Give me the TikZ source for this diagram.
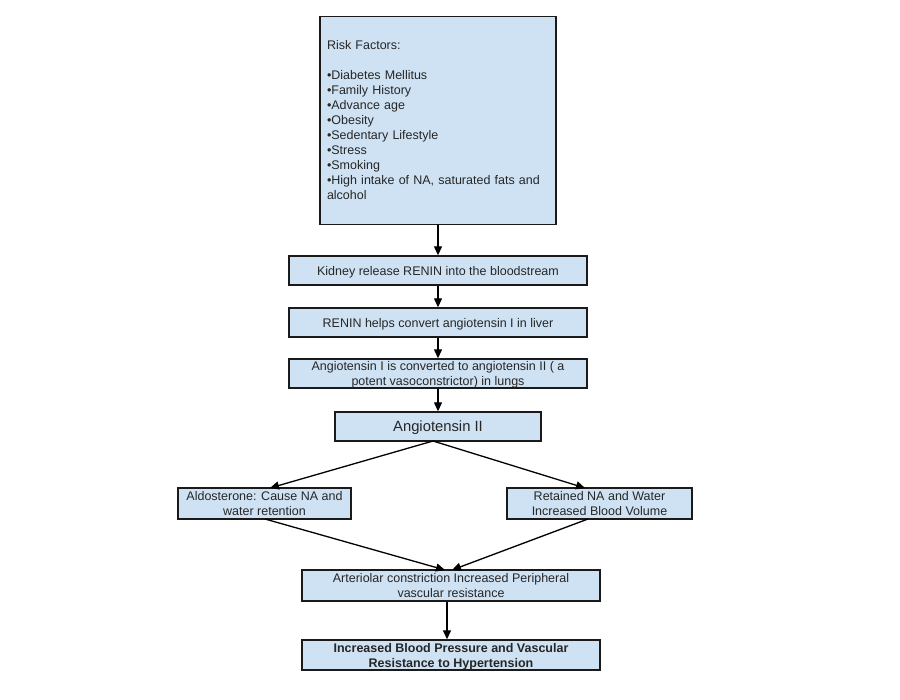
\documentclass[tikz,border=0pt]{standalone}
\usepackage{fontspec}
\setmainfont{Liberation Sans}
\usetikzlibrary{arrows.meta}
\definecolor{boxfill}{HTML}{CFE2F3}
\definecolor{boxline}{HTML}{1A1A1A}
\begin{document}
\begin{tikzpicture}[x=1pt,y=-1pt,
  basebox/.style={draw=boxline, line width=1.4pt, fill=boxfill, inner sep=0pt, align=center,
    font=\fontsize{12.5}{15}\selectfont, text=black!85},
  box/.style={basebox, text depth=0pt},
  conn/.style={line width=1.3pt, draw=black, -{Triangle[length=9pt,width=8pt]}}]
\useasboundingbox (0,0) rectangle (900,700);
\fill[white] (0,0) rectangle (900,700);

\node[basebox, minimum width=236pt, minimum height=208pt, text width=222pt, align=left] (risk) at (438,120.5)
 {Risk Factors:\\[15pt]
 •Diabetes Mellitus\\
 •Family History\\
 •Advance age\\
 •Obesity\\
 •Sedentary Lifestyle\\
 •Stress\\
 •Smoking\\
 •High intake of NA, saturated fats and\\
 alcohol};

\node[box, minimum width=298pt, minimum height=29pt] (kid) at (438,270.5) {Kidney release RENIN into the bloodstream};
\node[box, minimum width=298pt, minimum height=29pt] (ren) at (438,322.5) {RENIN helps convert angiotensin I in liver};
\node[box, minimum width=298pt, minimum height=29pt] (ang1) at (438,373.5) {Angiotensin I is converted to angiotensin II ( a\\potent vasoconstrictor) in lungs};
\node[box, minimum width=206pt, minimum height=29pt, font=\fontsize{14.8}{17}\selectfont] (ang2) at (438,426.5) {Angiotensin II};
\node[box, minimum width=173pt, minimum height=31pt] (ald) at (264.5,503.5) {Aldosterone: Cause NA and\\water retention};
\node[box, minimum width=185pt, minimum height=31pt] (ret) at (599.5,503.5) {Retained NA and Water\\Increased Blood Volume};
\node[box, minimum width=298pt, minimum height=31pt] (art) at (451,585.5) {Arteriolar constriction Increased Peripheral\\vascular resistance};
\node[box, minimum width=298pt, minimum height=30pt, font=\fontsize{12.5}{15}\selectfont\bfseries] (inc) at (451,655) {Increased Blood Pressure and Vascular\\Resistance to Hypertension};

\draw[conn] (risk.south) -- (kid.north);
\draw[conn] (kid.south) -- (ren.north);
\draw[conn] (ren.south) -- (ang1.north);
\draw[conn] (ang1.south) -- (ang2.north);
\coordinate (apex) at (433,441);
\draw[conn] (apex) -- (270,488);
\draw[conn] (apex) -- (585,488);
\draw[conn] (265,519) -- (445,570);
\draw[conn] (588,519) -- (452,570);
\draw[conn] (art.south -| 447,0) -- (inc.north -| 447,0);
\end{tikzpicture}
\end{document}
